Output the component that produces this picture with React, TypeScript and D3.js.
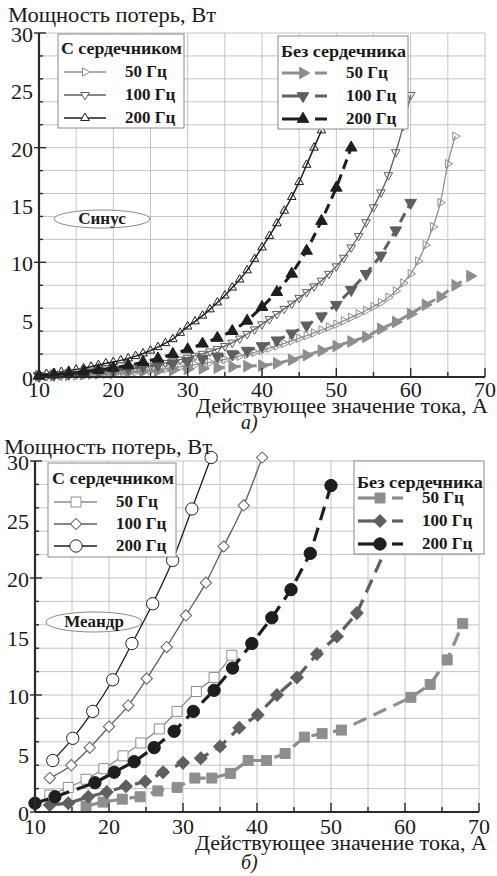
import React from 'react';
import * as d3 from 'd3';

type Pt = [number, number];

const Y_TITLE = 'Мощность потерь, Вт';
const X_TITLE = 'Действующее значение тока, А';
const LEGEND_CORE = 'С сердечником';
const LEGEND_AIR = 'Без сердечника';
const FREQ_LABELS = ['50 Гц', '100 Гц', '200 Гц'];
const X_TICKS = [10, 20, 30, 40, 50, 60, 70];
const Y_TICKS = [0, 5, 10, 15, 20, 25, 30];

// panel a) sine, with core: sampled every 1 A
const sineGrid1 = [10, 11, 12, 13, 14, 15, 16, 17, 18, 19, 20, 21, 22, 23, 24, 25, 26, 27, 28, 29, 30, 31, 32, 33, 34, 35, 36, 37, 38, 39, 40, 41, 42, 43, 44, 45, 46, 47, 48, 49, 50, 51, 52, 53, 54, 55, 56, 57, 58, 59, 60, 61, 62, 63, 64, 65, 66];
const sineCore50 = [0.03, 0.04, 0.05, 0.07, 0.09, 0.11, 0.14, 0.17, 0.2, 0.24,
  0.28, 0.33, 0.38, 0.44, 0.5, 0.57, 0.64, 0.72, 0.8, 0.89,
  0.98, 1.07, 1.17, 1.28, 1.4, 1.53, 1.67, 1.82, 1.98, 2.15,
  2.33, 2.52, 2.72, 2.93, 3.15, 3.38, 3.6, 3.85, 4.1, 4.35,
  4.6, 4.9, 5.2, 5.5, 5.8, 6.15, 6.5, 6.95, 7.5, 8.2,
  9.0, 10.1, 11.5, 13.1, 15.2, 18.6, 21.0];
const sineCore100 = [0.05, 0.08, 0.1, 0.13, 0.17, 0.22, 0.27, 0.32, 0.38, 0.45,
  0.52, 0.6, 0.68, 0.77, 0.87, 0.98, 1.1, 1.23, 1.37, 1.52,
  1.68, 1.85, 2.03, 2.23, 2.45, 2.7, 3.0, 3.35, 3.75, 4.15,
  4.6, 5.05, 5.5, 5.95, 6.4, 6.9, 7.4, 7.9, 8.4, 9.0,
  9.65, 10.4, 11.3, 12.3, 13.5, 14.8, 16.1, 17.6, 19.6, 21.9,
  24.6];
const sineCore200 = [0.2, 0.27, 0.35, 0.44, 0.54, 0.65, 0.77, 0.9, 1.04, 1.19,
  1.3, 1.45, 1.62, 1.82, 2.05, 2.3, 2.6, 2.95, 3.3, 3.85,
  4.4, 4.85, 5.35, 5.9, 6.5, 7.1, 7.8, 8.5, 9.3, 10.3,
  11.3, 12.3, 13.4, 14.5, 15.7, 17.0, 18.5, 20.0, 21.5];

// panel a) sine, without core: sampled every 2 A
const sineGrid2 = [10, 12, 14, 16, 18, 20, 22, 24, 26, 28, 30, 32, 34, 36, 38, 40, 42, 44, 46, 48, 50, 52, 54, 56, 58, 60, 62, 64, 66, 68];
const sineAir50 = [0.1, 0.15, 0.2, 0.25, 0.3, 0.35, 0.4, 0.5, 0.55, 0.6, 0.7, 0.75, 0.8, 0.9, 0.95, 1.0, 1.2, 1.5, 1.9, 2.3, 2.7, 3.1, 3.5, 4.2, 4.8, 5.5, 6.3, 7.0, 8.0, 8.8];
const sineAir100 = [0.1, 0.2, 0.3, 0.4, 0.5, 0.6, 0.75, 0.9, 1.05, 1.2, 1.4, 1.6, 1.8, 2.0, 2.3, 2.7, 3.2, 3.8, 4.5, 5.3, 6.3, 7.6, 9.0, 10.6, 12.8, 15.2];
const sineAir200 = [0.1, 0.2, 0.3, 0.45, 0.6, 0.8, 1.0, 1.3, 1.6, 2.0, 2.4, 2.9, 3.4, 4.0, 4.9, 6.1, 7.4, 9.0, 11.0, 13.6, 16.5, 20.0];

// panel б) meander
const meanderCore50: Pt[] = [[12, 1.45], [14.5, 2.1], [16.9, 2.8], [19.3, 3.7], [21.9, 4.8], [24.3, 5.9], [26.8, 7.1], [29.2, 8.6], [31.8, 10.3], [34.2, 11.5], [36.6, 13.4]];
const meanderCore100: Pt[] = [[12, 2.9], [14.9, 4.0], [17.4, 5.5], [20, 7.3], [22.6, 9.1], [25.1, 11.4], [27.8, 14.1], [30.4, 16.8], [33.1, 19.6], [35.5, 22.7], [38.2, 26.2], [40.7, 30.3]];
const meanderCore200: Pt[] = [[12.4, 4.4], [15.1, 6.3], [17.8, 8.6], [20.5, 11.3], [23.1, 14.4], [25.9, 17.8], [28.6, 21.5], [31.2, 25.9], [33.8, 30.3]];
const meanderAir50: Pt[] = [[16.9, 0.5], [19.2, 0.85], [21.8, 1.1], [24.2, 1.3], [26.6, 1.8], [29.2, 2.1], [31.6, 2.9], [33.9, 2.9], [36.4, 3.3], [38.8, 4.4], [41.3, 4.4], [43.8, 5.0], [46.4, 6.4], [48.8, 6.7], [51.4, 7.0], [60.8, 9.8], [63.4, 10.9], [65.7, 13.0], [67.8, 16.1]];
const meanderAir100: Pt[] = [[12, 0.6], [14.5, 0.75], [17.2, 1.3], [19.7, 1.7], [22.3, 2.2], [24.9, 2.6], [27.3, 3.4], [30, 4.2], [32.4, 4.6], [35, 5.6], [37.6, 7.2], [40.1, 8.3], [42.7, 10], [45.4, 11.5], [48.1, 13.5], [50.8, 15], [53.5, 17], [58.5, 24]];
const meanderAir200: Pt[] = [[10, 0.75], [12.7, 1.3], [18.1, 2.5], [20.7, 3.4], [23.4, 4.3], [26.1, 5.5], [28.8, 6.9], [31.4, 8.6], [34.2, 10.4], [36.7, 12.3], [39.3, 14.4], [42, 16.6], [44.6, 19], [47.2, 22.1], [50, 27.9]];

const GRAYS = ['#8e8e8e', '#5f5f5f', '#1e1e1e'];
const FONT = 'Liberation Serif, DejaVu Serif, serif';

const zip = (xs: number[], ys: number[]): Pt[] => ys.map((v, i) => [xs[i], v]);

type Kind = 'tri-up' | 'tri-down' | 'tri-right' | 'square' | 'diamond' | 'circle';

interface Series {
  pts: Pt[];
  color: string;
  kind: Kind;
  size: number;
  filled: boolean;
  width: number;
  dash?: string;
  smooth: boolean;
  hollow?: string;
}

const ROT: Record<Kind, number> = { 'tri-up': 0, 'tri-right': 90, 'tri-down': 180, square: 0, diamond: 45, circle: 0 };

function Marker({ kind, size, cx, cy, color, filled, hollow }: { kind: Kind; size: number; cx: number; cy: number; color: string; filled: boolean; hollow?: string }) {
  const type = kind === 'circle' ? d3.symbolCircle : (kind === 'square' || kind === 'diamond') ? d3.symbolSquare : d3.symbolTriangle;
  const d = d3.symbol().type(type).size(size)() || '';
  return (
    <path
      d={d}
      transform={`translate(${cx},${cy}) rotate(${ROT[kind]})`}
      fill={filled ? color : (hollow || 'none')}
      stroke={color}
      strokeWidth={1}
    />
  );
}

interface Frame { left: number; right: number; top: number; bottom: number }
interface LegendBox {
  x: number; y: number; w: number; h: number;
  title: string; titleX: number; titleY: number; titleLen: number;
  rows: number[]; textX: number;
  // core: sample line [a, b], marker at m; air: solid [a, b], marker at m, dash [c, d]
  a: number; b: number; m: number; c?: number; d?: number;
}

function Legend({ box, series }: { box: LegendBox; series: Series[] }) {
  return (
    <g>
      <rect x={box.x} y={box.y} width={box.w} height={box.h} fill="#fff" stroke="#8a8a8a" strokeWidth={1} />
      <text x={box.titleX} y={box.titleY} fontSize={17} fontWeight="bold" fill="#1a1a1a"
        textLength={box.titleLen} lengthAdjust="spacingAndGlyphs">{box.title}</text>
      {series.map((s, i) => {
        const cy = box.rows[i] - 5;
        return (
          <g key={i}>
            <line x1={box.a} x2={box.b} y1={cy} y2={cy} stroke={s.color} strokeWidth={s.width} />
            {box.c !== undefined && (
              <line x1={box.c} x2={box.d} y1={cy} y2={cy} stroke={s.color} strokeWidth={s.width} />
            )}
            <Marker kind={s.kind} size={s.size} cx={box.m} cy={cy} color={s.color} filled={s.filled} hollow={s.hollow || '#fff'} />
            <text x={box.textX} y={box.rows[i]} fontSize={17} fontWeight="bold" fill="#1a1a1a">{FREQ_LABELS[i]}</text>
          </g>
        );
      })}
    </g>
  );
}

interface PanelProps {
  frame: Frame;
  core: Series[];
  air: Series[];
  coreBox: LegendBox;
  airBox: LegendBox;
  badge: { cx: number; cy: number; rx: number; ry: number; text: string };
  yTitleY: number;
  xLabelY: number;
  xTitle: { x1: number; x2: number; y: number };
  tag: { x: number; y: number; text: string };
}

function Panel({ frame, core, air, coreBox, airBox, badge, yTitleY, xLabelY, xTitle, tag }: PanelProps) {
  const x = d3.scaleLinear().domain([10, 70]).range([frame.left, frame.right]);
  const y = d3.scaleLinear().domain([0, 30]).range([frame.bottom, frame.top]);
  const gridX = x.ticks(12);
  const gridY = y.ticks(12);

  const path = (s: Series) => d3.line<Pt>()
    .x(d => x(d[0]))
    .y(d => y(d[1]))
    .curve(s.smooth ? d3.curveMonotoneX : d3.curveLinear)(s.pts) || '';

  const drawSeries = (s: Series, key: string) => (
    <g key={key}>
      <path d={path(s)} fill="none" stroke={s.color} strokeWidth={s.width} strokeDasharray={s.dash} />
      {s.pts.map((p, i) => (
        <Marker key={i} kind={s.kind} size={s.size} cx={x(p[0])} cy={y(p[1])} color={s.color} filled={s.filled} hollow={s.hollow} />
      ))}
    </g>
  );

  return (
    <g>
      {/* grid */}
      <g stroke="#c4c4c4" strokeWidth={1}>
        {gridX.map(v => <line key={'gx' + v} x1={x(v)} x2={x(v)} y1={y(30)} y2={y(0)} />)}
        {gridY.map(v => <line key={'gy' + v} x1={x(10)} x2={x(70)} y1={y(v)} y2={y(v)} />)}
      </g>

      {core.map((s, i) => drawSeries(s, 'c' + i))}
      {air.map((s, i) => drawSeries(s, 'a' + i))}

      {/* axes */}
      <g stroke="#2a2a2a">
        <line x1={x(10)} x2={x(10)} y1={y(30)} y2={y(0)} strokeWidth={2.2} />
        <line x1={x(10)} x2={x(70)} y1={y(0)} y2={y(0)} strokeWidth={2.2} />
        {gridY.map(v => {
          const major = v % 5 === 0;
          return <line key={'ty' + v} x1={x(10) - (major ? 5 : 0)} x2={x(10) + (major ? 7 : 4)} y1={y(v)} y2={y(v)} strokeWidth={1.4} />;
        })}
        {gridX.map(v => {
          const major = v % 10 === 0;
          return <line key={'tx' + v} x1={x(v)} x2={x(v)} y1={y(0)} y2={y(0) - (major ? 9 : 5)} strokeWidth={1.4} />;
        })}
      </g>

      {/* tick labels */}
      <g fontSize={22} fill="#1a1a1a">
        {Y_TICKS.map(v => (
          <text key={'ly' + v} x={x(10) - 6} y={y(v) + 9} textAnchor="end">{v}</text>
        ))}
        {X_TICKS.map(v => (
          <text key={'lx' + v} x={x(v)} y={xLabelY} textAnchor="middle">{v}</text>
        ))}
      </g>

      {/* legends */}
      <Legend box={coreBox} series={core} />
      <Legend box={airBox} series={air} />

      {/* waveform badge */}
      <ellipse cx={badge.cx} cy={badge.cy} rx={badge.rx} ry={badge.ry} fill="#fff" stroke="#8a8a8a" strokeWidth={1} />
      <text x={badge.cx} y={badge.cy + 5} textAnchor="middle" fontSize={17} fontWeight="bold" fill="#1a1a1a">{badge.text}</text>

      {/* titles */}
      <text x={frame.left - 31} y={yTitleY} fontSize={21} fill="#1a1a1a" textLength={208} lengthAdjust="spacingAndGlyphs">{Y_TITLE}</text>
      <text x={xTitle.x1} y={xTitle.y} fontSize={20} fill="#1a1a1a" textLength={xTitle.x2 - xTitle.x1} lengthAdjust="spacingAndGlyphs">{X_TITLE}</text>
      <text x={tag.x} y={tag.y} fontSize={20} fontStyle="italic" fill="#1a1a1a">{tag.text}</text>
    </g>
  );
}

const TRI_OPEN = 32;
const TRI_FILL = 58;

const sineCore: Series[] = [
  { pts: zip(sineGrid1, sineCore50), color: GRAYS[0], kind: 'tri-right', size: TRI_OPEN, filled: false, width: 1.3, smooth: true },
  { pts: zip(sineGrid1, sineCore100), color: GRAYS[1], kind: 'tri-down', size: TRI_OPEN, filled: false, width: 1.3, smooth: true },
  { pts: zip(sineGrid1, sineCore200), color: GRAYS[2], kind: 'tri-up', size: TRI_OPEN, filled: false, width: 1.5, smooth: true },
];
const sineAir: Series[] = [
  { pts: zip(sineGrid2, sineAir50), color: GRAYS[0], kind: 'tri-right', size: TRI_FILL, filled: true, width: 3, dash: '10,6', smooth: false },
  { pts: zip(sineGrid2, sineAir100), color: GRAYS[1], kind: 'tri-down', size: TRI_FILL, filled: true, width: 3, dash: '10,6', smooth: false },
  { pts: zip(sineGrid2, sineAir200), color: GRAYS[2], kind: 'tri-up', size: TRI_FILL, filled: true, width: 3, dash: '10,6', smooth: false },
];

const meanderCore: Series[] = [
  { pts: meanderCore50, color: GRAYS[0], kind: 'square', size: 100, filled: false, width: 1.3, smooth: true, hollow: '#fff' },
  { pts: meanderCore100, color: GRAYS[1], kind: 'diamond', size: 64, filled: false, width: 1.3, smooth: true, hollow: '#fff' },
  { pts: meanderCore200, color: GRAYS[2], kind: 'circle', size: 120, filled: false, width: 1.3, smooth: true, hollow: '#fff' },
];
const meanderAir: Series[] = [
  { pts: meanderAir50, color: GRAYS[0], kind: 'square', size: 100, filled: true, width: 3.2, dash: '14,8', smooth: false },
  { pts: meanderAir100, color: GRAYS[1], kind: 'diamond', size: 80, filled: true, width: 3.2, dash: '14,8', smooth: false },
  { pts: meanderAir200, color: GRAYS[2], kind: 'circle', size: 120, filled: true, width: 3.2, dash: '14,8', smooth: false },
];

export default function App() {
  return (
    <svg width={497} height={876} style={{ position: 'absolute', left: 0, top: 0, fontFamily: FONT }} fontFamily={FONT}>
      <rect width={497} height={876} fill="#fff" />
      <Panel
        frame={{ left: 39, right: 485, top: 33, bottom: 377 }}
        core={sineCore}
        air={sineAir}
        coreBox={{ x: 58, y: 34, w: 126, h: 94, title: LEGEND_CORE, titleX: 61, titleY: 54, titleLen: 121, rows: [77, 100, 123], textX: 125, a: 64, b: 106, m: 85 }}
        airBox={{ x: 278, y: 36, w: 130, h: 93, title: LEGEND_AIR, titleX: 281, titleY: 57, titleLen: 125, rows: [78, 101, 124], textX: 346, a: 282, b: 302, m: 303, c: 315, d: 327 }}
        badge={{ cx: 102, cy: 219, rx: 48, ry: 9, text: 'Синус' }}
        yTitleY={22}
        xLabelY={397}
        xTitle={{ x1: 196, x2: 488, y: 413 }}
        tag={{ x: 241, y: 429, text: 'а)' }}
      />
      <Panel
        frame={{ left: 35, right: 479, top: 461, bottom: 812 }}
        core={meanderCore}
        air={meanderAir}
        coreBox={{ x: 48, y: 463, w: 128, h: 94, title: LEGEND_CORE, titleX: 52, titleY: 484, titleLen: 122, rows: [507, 529, 551], textX: 116, a: 54, b: 97, m: 76 }}
        airBox={{ x: 354, y: 461, w: 130, h: 93, title: LEGEND_AIR, titleX: 357, titleY: 488, titleLen: 126, rows: [503, 526, 549], textX: 422, a: 358, b: 377, m: 380, c: 392, d: 403 }}
        badge={{ cx: 94, cy: 622, rx: 48, ry: 10, text: 'Меандр' }}
        yTitleY={454}
        xLabelY={834}
        xTitle={{ x1: 195, x2: 487, y: 850 }}
        tag={{ x: 241, y: 869, text: 'б)' }}
      />
    </svg>
  );
}
